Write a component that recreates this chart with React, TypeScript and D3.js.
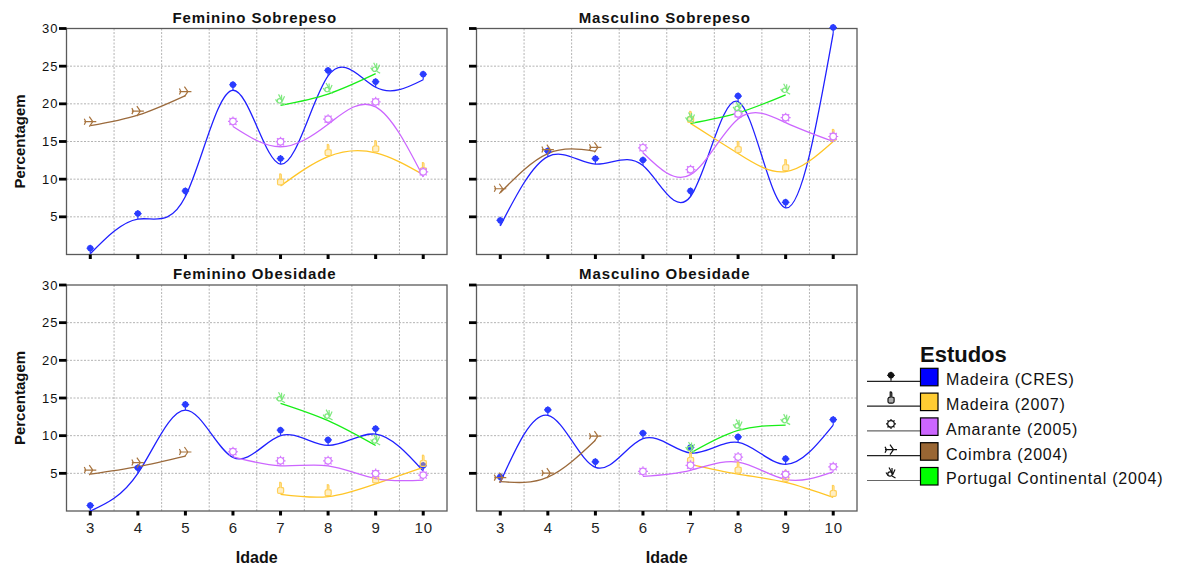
import { useRef, useEffect } from 'react'
import * as d3 from 'd3'

const WIDTH = 1180
const HEIGHT = 567
const FONT = "'Liberation Sans', Arial, sans-serif"

// ages covered by each study
const AGES_CRES = [3, 4, 5, 6, 7, 8, 9, 10]
const AGES_MAD2007 = [7, 8, 9, 10]
const AGES_AMARANTE = [6, 7, 8, 9, 10]
const AGES_COIMBRA = [3, 4, 5]
const AGES_PORTUGAL = [7, 8, 9]

// Feminino Sobrepeso
const FS_CRES = [0.1, 4.7, 7.7, 21.8, 12.0, 23.7, 22.2, 23.2]
const FS_MAD2007 = [9.1, 13.0, 13.5, 10.6]
const FS_AMARANTE = [17.0, 14.3, 17.3, 19.6, 10.3]
const FS_COIMBRA = [17.1, 18.5, 21.1]
const FS_PORTUGAL = [19.8, 21.3, 24.0]

// Masculino Sobrepeso
const MS_CRES = [3.8, 13.0, 12.0, 11.8, 7.7, 20.3, 6.2, 29.4]
const MS_MAD2007 = [17.4, 13.4, 11.0, 15.0]
const MS_AMARANTE = [13.5, 10.6, 18.0, 17.5, 15.0]
const MS_COIMBRA = [8.2, 13.4, 13.7]
const MS_PORTUGAL = [17.4, 18.8, 21.2]

// Feminino Obesidade
const FO_CRES = [0.0, 5.0, 13.4, 7.1, 10.0, 8.7, 10.2, 5.3]
const FO_MAD2007 = [2.2, 1.9, 3.6, 5.8]
const FO_AMARANTE = [7.2, 6.0, 6.0, 4.3, 4.1]
const FO_COIMBRA = [4.9, 5.9, 7.3]
const FO_PORTUGAL = [14.3, 12.0, 8.7]

// Masculino Obesidade
const MO_CRES = [3.8, 12.7, 5.8, 9.6, 7.7, 9.1, 6.2, 11.4]
const MO_MAD2007 = [6.2, 4.9, 3.8, 1.8]
const MO_AMARANTE = [4.6, 5.4, 6.5, 4.2, 5.2]
const MO_COIMBRA = [3.9, 4.5, 9.4]
const MO_PORTUGAL = [7.7, 10.7, 11.4]

const STUDIES = [
  { key: 'cres', label: 'Madeira (CRES)', ages: AGES_CRES, line: '#2020ff', marker: '#2a3cff', box: '#0000ff', legendLine: '#222' },
  { key: 'mad2007', label: 'Madeira (2007)', ages: AGES_MAD2007, line: '#ffc526', marker: '#ffd05a', box: '#ffcc33', legendLine: '#222' },
  { key: 'amarante', label: 'Amarante (2005)', ages: AGES_AMARANTE, line: '#cc66ff', marker: '#d57cff', box: '#cc66ff', legendLine: '#666' },
  { key: 'coimbra', label: 'Coimbra (2004)', ages: AGES_COIMBRA, line: '#9b6a3c', marker: '#a8743f', box: '#996633', legendLine: '#222' },
  { key: 'portugal', label: 'Portugal Continental (2004)', ages: AGES_PORTUGAL, line: '#18ee18', marker: '#7ee87e', box: '#00ff00', legendLine: '#666' },
]

const PANELS = [
  { title: 'Feminino Sobrepeso', col: 0, row: 0, values: [FS_CRES, FS_MAD2007, FS_AMARANTE, FS_COIMBRA, FS_PORTUGAL] },
  { title: 'Masculino Sobrepeso', col: 1, row: 0, values: [MS_CRES, MS_MAD2007, MS_AMARANTE, MS_COIMBRA, MS_PORTUGAL] },
  { title: 'Feminino Obesidade', col: 0, row: 1, values: [FO_CRES, FO_MAD2007, FO_AMARANTE, FO_COIMBRA, FO_PORTUGAL] },
  { title: 'Masculino Obesidade', col: 1, row: 1, values: [MO_CRES, MO_MAD2007, MO_AMARANTE, MO_COIMBRA, MO_PORTUGAL] },
]

const Y_TICKS = [5, 10, 15, 20, 25, 30]
const X_TICKS = [3, 4, 5, 6, 7, 8, 9, 10]
const X_GRID = [3.5, 4.5, 5.5, 6.5, 7.5, 8.5, 9.5]

const COL_LEFT = [66.5, 476.5]
const ROW_TOP = [28.5, 285]
const PW = 380.5
const PH = 226

function drawMarker(g: any, kind: string, x: number, y: number, color: string) {
  const m = g.append('g').attr('transform', `translate(${x},${y})`)
    .attr('fill', 'none').attr('stroke', color).attr('stroke-width', 1.2)
  if (kind === 'cres') {
    m.append('path').attr('d', 'M0,0 V-9 M-3.8,-5.5 H3.8')
    m.append('circle').attr('cx', 0).attr('cy', -5.5).attr('r', 2.6).attr('fill', color)
  } else if (kind === 'mad2007') {
    m.append('path')
      .attr('d', 'M-0.8,-11 Q0.4,-11.5 0.8,-10 L0.8,-6 L2.8,-5.6 Q3.4,-5 3,-1 Q2.6,0 1.5,0 L-1.8,0 Q-3,0 -3,-1.5 L-3,-4.5 Q-2.5,-5.8 -0.8,-6 Z')
      .attr('fill', color).attr('fill-opacity', 0.35)
  } else if (kind === 'amarante') {
    m.append('circle').attr('cx', 0).attr('cy', -4).attr('r', 3.3).attr('fill', '#fff')
    const rays = d3.range(8).map(i => {
      const a = i * Math.PI / 4
      return `M${3.3 * Math.cos(a)},${-4 + 3.3 * Math.sin(a)} L${5 * Math.cos(a)},${-4 + 5 * Math.sin(a)}`
    }).join(' ')
    m.append('path').attr('d', rays)
  } else if (kind === 'coimbra') {
    m.append('path').attr('d', 'M-6,-3 H6 M2.5,-3 L-1,-8 M2.5,-3 L-1,2 M-4.5,-3 L-6,-6 M-4.5,-3 L-6,0')
  } else {
    m.append('circle').attr('cx', -1).attr('cy', -3.5).attr('r', 2.2)
    m.append('path').attr('d', 'M1,-4.5 L-2,-10 M1.2,-3.5 L1,-9.5 M1.5,-2.5 L4,-8 M1,-1.5 L4.5,0.5 M-3,-2 L-5,-5')
  }
}

export default function App() {
  const svgRef = useRef<SVGSVGElement>(null)

  useEffect(() => {
    if (!svgRef.current) return
    const svg = d3.select(svgRef.current)
    svg.selectAll('*').remove()

    const defs = svg.append('defs')

    PANELS.forEach((panel, pi) => {
      const x0 = COL_LEFT[panel.col]
      const y0 = ROW_TOP[panel.row]
      const xScale = d3.scaleLinear().domain([2.5, 10.5]).range([x0, x0 + PW])
      const yScale = d3.scaleLinear().domain([0, 30]).range([y0 + PH, y0])

      defs.append('clipPath').attr('id', `clip${pi}`)
        .append('rect').attr('x', x0).attr('y', y0).attr('width', PW).attr('height', PH)

      const g = svg.append('g')

      // grid
      g.selectAll('.hg').data(Y_TICKS.slice(0, -1)).join('line')
        .attr('x1', x0).attr('x2', x0 + PW)
        .attr('y1', d => yScale(d)).attr('y2', d => yScale(d))
        .attr('stroke', '#b4b4b4').attr('stroke-width', 1).attr('stroke-dasharray', '2,1.5')
      g.selectAll('.vg').data(X_GRID).join('line')
        .attr('x1', d => xScale(d)).attr('x2', d => xScale(d))
        .attr('y1', y0).attr('y2', y0 + PH)
        .attr('stroke', '#b4b4b4').attr('stroke-width', 1).attr('stroke-dasharray', '2,1.5')

      // frame
      g.append('rect').attr('x', x0).attr('y', y0).attr('width', PW).attr('height', PH)
        .attr('fill', 'none').attr('stroke', '#5a5a5a').attr('stroke-width', 1.3)

      // y ticks
      g.selectAll('.yt').data(Y_TICKS).join('rect')
        .attr('x', x0 - 7.5).attr('y', d => yScale(d) - 1.4).attr('width', 7.5).attr('height', 2.8)
        .attr('fill', '#000')
      if (panel.col === 0) {
        g.selectAll('.yl').data(Y_TICKS).join('text')
          .attr('x', x0 - 8).attr('y', d => yScale(d) + 4.5)
          .attr('text-anchor', 'end').attr('font-family', FONT).attr('font-size', 13)
          .attr('letter-spacing', 1).attr('fill', '#111')
          .text(d => d)
        g.append('text')
          .attr('transform', `translate(25,${y0 + PH / 2}) rotate(-90)`)
          .attr('text-anchor', 'middle').attr('font-family', FONT).attr('font-size', 15)
          .attr('font-weight', 'bold').attr('fill', '#111')
          .text('Percentagem')
      }

      // x ticks
      g.selectAll('.xt').data(X_TICKS).join('rect')
        .attr('x', d => xScale(d) - 1.5).attr('y', y0 + PH).attr('width', 3).attr('height', 4.5)
        .attr('fill', '#000')
      if (panel.row === 1) {
        g.selectAll('.xl').data(X_TICKS).join('text')
          .attr('x', d => xScale(d) + 0.5).attr('y', 533)
          .attr('text-anchor', 'middle').attr('font-family', FONT).attr('font-size', 15)
          .attr('letter-spacing', 1).attr('fill', '#222')
          .text(d => d)
        g.append('text')
          .attr('x', x0 + PW / 2).attr('y', 563)
          .attr('text-anchor', 'middle').attr('font-family', FONT).attr('font-size', 16)
          .attr('font-weight', 'bold').attr('fill', '#111')
          .text('Idade')
      }

      // title
      g.append('text')
        .attr('x', x0 + PW / 2 - 2).attr('y', y0 - 6)
        .attr('text-anchor', 'middle').attr('font-family', FONT).attr('font-size', 15)
        .attr('font-weight', 'bold').attr('letter-spacing', 0.9).attr('fill', '#111')
        .text(panel.title)

      // series
      const line = d3.line<[number, number]>()
        .x(d => xScale(d[0])).y(d => yScale(d[1]))
        .curve(d3.curveNatural)
      const lines = g.append('g').attr('clip-path', `url(#clip${pi})`)
      STUDIES.forEach((s, si) => {
        const pts = s.ages.map((a, i) => [a, panel.values[si][i]] as [number, number])
        lines.append('path').datum(pts).attr('d', line)
          .attr('fill', 'none').attr('stroke', s.line).attr('stroke-width', 1.3)
      })
      STUDIES.forEach((s, si) => {
        s.ages.forEach((a, i) => {
          drawMarker(g, s.key, xScale(a), yScale(panel.values[si][i]) - (s.key === 'cres' ? 0 : 1), s.marker)
        })
      })
    })

    // legend
    const lg = svg.append('g')
    lg.append('text').attr('x', 920).attr('y', 362)
      .attr('font-family', FONT).attr('font-size', 22).attr('font-weight', 'bold').attr('fill', '#111')
      .text('Estudos')
    STUDIES.forEach((s, i) => {
      const ly = 381.3 + i * 24.8
      lg.append('line').attr('x1', 867).attr('x2', 920).attr('y1', ly).attr('y2', ly)
        .attr('stroke', s.legendLine).attr('stroke-width', 1.2)
      drawMarker(lg, s.key, 891, ly - (s.key === 'cres' ? 0.5 : 3), '#111')
      lg.append('rect').attr('x', 920.5).attr('y', ly - 13).attr('width', 17.5).attr('height', 17.5)
        .attr('fill', s.box).attr('stroke', '#000').attr('stroke-width', 1.2)
      lg.append('text').attr('x', 946).attr('y', ly + 3.8)
        .attr('font-family', FONT).attr('font-size', 16).attr('letter-spacing', 0.8).attr('fill', '#111')
        .text(s.label)
    })
  }, [])

  return (
    <svg
      ref={svgRef}
      width={WIDTH}
      height={HEIGHT}
      style={{ position: 'absolute', left: 0, top: 0, background: '#fff' }}
    />
  )
}
